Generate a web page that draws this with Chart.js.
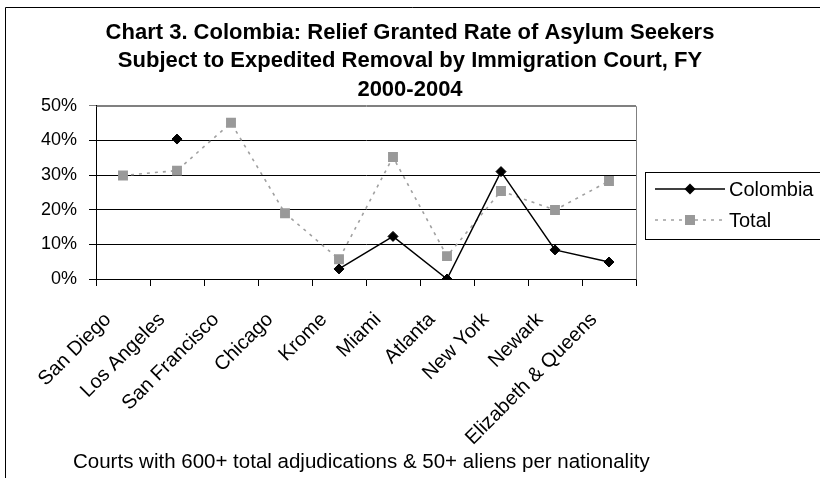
<!DOCTYPE html>
<html>
<head>
<meta charset="utf-8">
<script src="https://cdn.jsdelivr.net/npm/chart.js"></script>
<style>
  html, body { margin: 0; padding: 0; background: #fff; }
  #wrap { width: 820px; height: 478px; position: relative; }
</style>
</head>
<body>
<div id="wrap"><canvas id="reliefChart" width="820" height="478"></canvas></div>
<script>
const courts = ['San Diego', 'Los Angeles', 'San Francisco', 'Chicago', 'Krome', 'Miami', 'Atlanta', 'New York', 'Newark', 'Elizabeth & Queens'];
const colombiaRate = [null, 40.4, null, null, 2.9, 12.3, 0, 31.0, 8.4, 4.9];
const totalRate = [29.9, 31.3, 45.1, 19.0, 5.7, 35.2, 6.6, 25.4, 19.9, 28.3];
const yTicks = [0, 10, 20, 30, 40, 50];
const titleLines = ['Chart 3. Colombia: Relief Granted Rate of Asylum Seekers', 'Subject to Expedited Removal by Immigration Court, FY', '2000-2004'];
const footnote = 'Courts with 600+ total adjudications & 50+ aliens per nationality';

const FONT = '"Liberation Sans", Arial, sans-serif';

// outer frame, plot border, legend box and footnote
const decorations = {
    id: 'decorations',
    beforeDraw(chart) {
        const ctx = chart.ctx;
        ctx.save();
        ctx.fillStyle = '#fff';
        ctx.fillRect(0, 0, chart.width, chart.height);
        ctx.strokeStyle = '#000';
        ctx.lineWidth = 1;
        ctx.beginPath();
        ctx.moveTo(5.5, chart.height);
        ctx.lineTo(5.5, 7.5);
        ctx.lineTo(chart.width, 7.5);
        ctx.stroke();
        ctx.restore();
    },
    afterDraw(chart) {
        const ctx = chart.ctx;
        const area = chart.chartArea;
        ctx.save();
        // plot border on top and right
        ctx.strokeStyle = '#808080';
        ctx.lineWidth = 1;
        ctx.beginPath();
        ctx.moveTo(Math.round(area.left) + 0.5, Math.round(area.top) + 0.5);
        ctx.lineTo(Math.round(area.right) + 0.5, Math.round(area.top) + 0.5);
        ctx.lineTo(Math.round(area.right) + 0.5, Math.round(area.bottom) + 0.5);
        ctx.stroke();

        // legend
        const lx = 645.5, ly = 172.5, lw = 200, lh = 67;
        ctx.strokeStyle = '#000';
        ctx.strokeRect(lx, ly, lw, lh);
        const rows = [
            { ds: chart.data.datasets[0], y: 189 },
            { ds: chart.data.datasets[1], y: 220 }
        ];
        rows.forEach(r => {
            ctx.save();
            ctx.strokeStyle = r.ds.borderColor;
            ctx.lineWidth = r.ds.borderWidth;
            ctx.setLineDash(r.ds.borderDash || []);
            ctx.beginPath();
            ctx.moveTo(655, r.y);
            ctx.lineTo(725, r.y);
            ctx.stroke();
            ctx.setLineDash([]);
            ctx.fillStyle = r.ds.pointBackgroundColor;
            const cx = 690;
            if (r.ds.pointStyle === 'rectRot') {
                ctx.beginPath();
                ctx.moveTo(cx - 5.5, r.y);
                ctx.lineTo(cx, r.y - 5.5);
                ctx.lineTo(cx + 5.5, r.y);
                ctx.lineTo(cx, r.y + 5.5);
                ctx.closePath();
                ctx.fill();
            } else {
                ctx.fillRect(cx - 5, r.y - 5, 10, 10);
            }
            ctx.restore();
            ctx.fillStyle = '#000';
            ctx.font = '20px ' + FONT;
            ctx.textBaseline = 'middle';
            ctx.textAlign = 'left';
            ctx.fillText(r.ds.label, 729, r.y + 1);
        });

        // footnote
        ctx.fillStyle = '#000';
        ctx.font = '20.5px ' + FONT;
        ctx.textAlign = 'left';
        ctx.textBaseline = 'alphabetic';
        ctx.fillText(footnote, 73, 468);
        ctx.restore();
    }
};

new Chart(document.getElementById('reliefChart'), {
    type: 'line',
    data: {
        labels: courts,
        datasets: [
            {
                label: 'Colombia',
                data: colombiaRate,
                borderColor: '#000',
                borderWidth: 1.5,
                pointStyle: 'rectRot',
                pointRadius: 5,
                pointBackgroundColor: '#000',
                pointBorderColor: '#000',
                pointBorderWidth: 1,
                spanGaps: false,
                order: 0
            },
            {
                label: 'Total',
                data: totalRate,
                borderColor: '#a0a0a0',
                borderWidth: 1.6,
                borderDash: [3, 5],
                pointStyle: 'rect',
                pointRadius: 7,
                pointBackgroundColor: '#999999',
                pointBorderColor: '#999999',
                pointBorderWidth: 0,
                order: 1
            }
        ]
    },
    options: {
        responsive: false,
        animation: false,
        layout: { padding: 0 },
        plugins: {
            legend: { display: false },
            tooltip: { enabled: false },
            title: {
                display: true,
                text: titleLines,
                color: '#000',
                font: { family: FONT, size: 22, weight: 'bold', lineHeight: 1.285 },
                padding: { top: 19, bottom: 2 }
            }
        },
        scales: {
            x: {
                offset: true,
                afterFit(scale) { scale.height = 199; },
                grid: {
                    offset: true,
                    drawOnChartArea: false,
                    color: '#000',
                    tickLength: 7
                },
                border: { color: '#000', width: 1 },
                ticks: {
                    color: '#000',
                    font: { family: FONT, size: 20 },
                    minRotation: 45,
                    maxRotation: 45,
                    autoSkip: false,
                    labelOffset: -15,
                    padding: 22
                }
            },
            y: {
                min: 0,
                max: 50,
                afterFit(scale) { scale.width = 96; },
                afterBuildTicks(scale) { scale.ticks = yTicks.map(v => ({ value: v })); },
                grid: {
                    color: ctx => (ctx.tick && ctx.tick.value === 50 ? '#808080' : '#000'),
                    tickLength: 7
                },
                border: { color: '#000', width: 1 },
                ticks: {
                    color: '#000',
                    font: { family: FONT, size: 18 },
                    padding: 12,
                    callback: v => v + '%'
                }
            },
            // empty right-hand strip that keeps room for the legend
            side: {
                position: 'right',
                afterFit(scale) { scale.width = 184; },
                grid: { display: false },
                border: { display: false },
                ticks: { display: false }
            }
        }
    },
    plugins: [decorations]
});
</script>
</body>
</html>
